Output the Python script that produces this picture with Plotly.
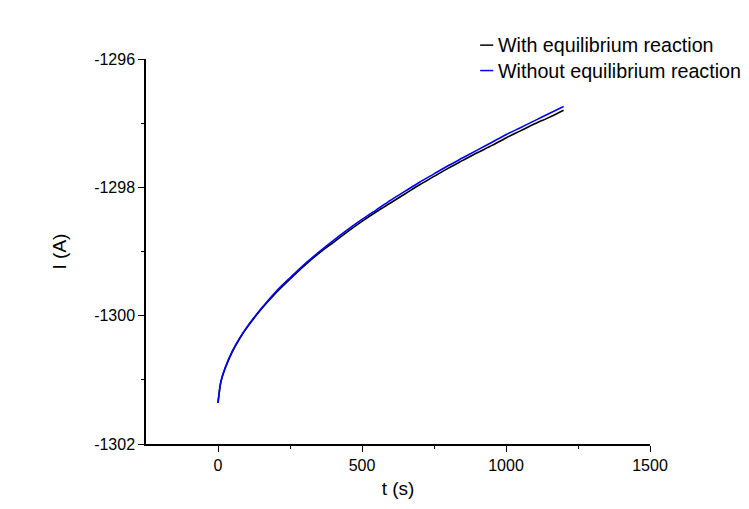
import plotly.graph_objects as go

# Time (s) and current (A) for the two simulation cases
t_s = [0, 10, 25, 50, 75, 100, 150, 200, 250, 300, 350, 400, 450, 500,
       550, 600, 650, 700, 750, 800, 850, 900, 950, 1000, 1050, 1100,
       1150, 1200]
i_without_eq = [-1301.36, -1301.03, -1300.81, -1300.55, -1300.35, -1300.18,
                -1299.89, -1299.63, -1299.41, -1299.20, -1299.01, -1298.83,
                -1298.66, -1298.50, -1298.35, -1298.20, -1298.06, -1297.92,
                -1297.79, -1297.66, -1297.54, -1297.42, -1297.30, -1297.18,
                -1297.07, -1296.96, -1296.85, -1296.74]
i_with_eq = [-1301.36, -1301.03, -1300.82, -1300.56, -1300.36, -1300.19,
             -1299.90, -1299.65, -1299.43, -1299.22, -1299.03, -1298.86,
             -1298.69, -1298.53, -1298.38, -1298.24, -1298.10, -1297.96,
             -1297.83, -1297.70, -1297.58, -1297.46, -1297.35, -1297.23,
             -1297.12, -1297.01, -1296.91, -1296.80]

series_names = ["With equilibrium reaction", "Without equilibrium reaction"]
series_colors = ["#000000", "#0000ff"]

x_ticks = [0, 500, 1000, 1500]
x_tick_text = ["0", "500", "1000", "1500"]
y_ticks = [-1302, -1300, -1298, -1296]
y_tick_text = ["-1302", "-1300", "-1298", "-1296"]

FONT = "Arial, Liberation Sans, sans-serif"

fig = go.Figure()
for name, color, ys in zip(series_names, series_colors, [i_with_eq, i_without_eq]):
    fig.add_trace(go.Scatter(x=t_s, y=ys, mode="lines", name=name,
                             line=dict(color=color, width=1.6, shape="spline",
                                       smoothing=0.8),
                             showlegend=False))

# Legend drawn as a short line sample plus a label per series
leg_x0, leg_x1, leg_tx = 0.663, 0.689, 0.6964
leg_y = [1.036, 0.970]
for name, color, yy in zip(series_names, series_colors, leg_y):
    fig.add_shape(type="line", xref="paper", yref="paper",
                  x0=leg_x0, x1=leg_x1, y0=yy, y1=yy,
                  line=dict(color=color, width=1.5))
    fig.add_annotation(xref="paper", yref="paper", x=leg_tx, y=yy,
                       text=name, showarrow=False, xanchor="left",
                       yanchor="middle", borderpad=0,
                       font=dict(family=FONT, size=19.7, color="#000000"))

axis_common = dict(showline=True, linecolor="#000000", linewidth=1.5,
                   showgrid=False, zeroline=False, ticks="outside",
                   ticklen=6, tickwidth=1.2, tickcolor="#000000",
                   tickfont=dict(family=FONT, size=16, color="#000000"))

fig.update_xaxes(range=[-250, 1500], tickvals=x_ticks, ticktext=x_tick_text,
                 minor=dict(tickvals=[250, 750, 1250], ticks="outside",
                            ticklen=3, tickwidth=1.2, tickcolor="#000000"),
                 title=dict(text="t (s)", standoff=9,
                            font=dict(family=FONT, size=19, color="#000000")),
                 **axis_common)
fig.update_yaxes(range=[-1302, -1296], tickvals=y_ticks, ticktext=y_tick_text,
                 minor=dict(tickvals=[-1301, -1299, -1297], ticks="outside",
                            ticklen=3, tickwidth=1.2, tickcolor="#000000"),
                 title=dict(text="I (A)", standoff=22,
                            font=dict(family=FONT, size=19, color="#000000")),
                 **axis_common)

fig.update_layout(width=749, height=509,
                  margin=dict(l=146, r=99, t=59, b=65),
                  paper_bgcolor="#ffffff", plot_bgcolor="#ffffff",
                  font=dict(family=FONT, color="#000000"))

fig.write_html("out.html")
